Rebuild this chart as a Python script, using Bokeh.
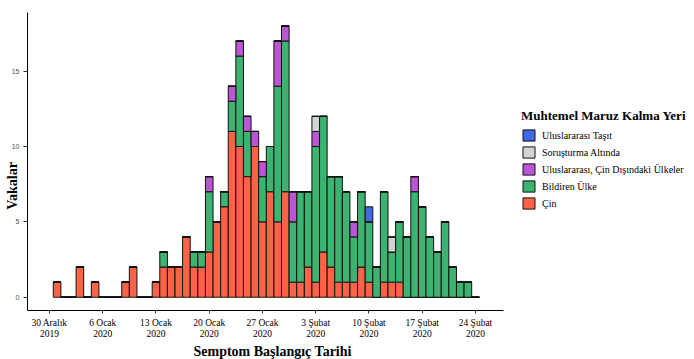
import math
from bokeh.plotting import figure
from bokeh.models import Range1d, FixedTicker, Legend, LegendItem, ColumnDataSource, Title
from bokeh.embed import file_html
from bokeh.resources import INLINE

# x: days since 30 Aralık 2019 (bar i -> 31 Aralık + i)
day_offset = list(range(1, 57))

cin = [1, 0, 0, 2, 0, 1, 0, 0, 0, 1, 2, 0, 0, 1, 2, 2, 2, 4, 2, 2,
       3, 5, 6, 11, 10, 8, 10, 5, 7, 5, 7, 1, 1, 2, 1, 3, 2, 1, 1, 1,
       2, 1, 0, 1, 1, 1, 0, 0, 0, 0, 0, 0, 0, 0, 0, 0]
bildiren = [0, 0, 0, 0, 0, 0, 0, 0, 0, 0, 0, 0, 0, 0, 1, 0, 0, 0, 1, 1,
            4, 0, 1, 2, 6, 3, 0, 3, 3, 9, 10, 4, 6, 5, 9, 9, 6, 7, 6, 3,
            5, 4, 2, 6, 2, 4, 4, 7, 6, 4, 3, 5, 2, 1, 1, 0]
cin_disi = [0, 0, 0, 0, 0, 0, 0, 0, 0, 0, 0, 0, 0, 0, 0, 0, 0, 0, 0, 0,
            1, 0, 0, 1, 1, 1, 1, 1, 0, 3, 1, 2, 0, 0, 1, 0, 0, 0, 0, 1,
            0, 0, 0, 0, 0, 0, 0, 1, 0, 0, 0, 0, 0, 0, 0, 0]
sorusturma = [0] * 34 + [1] + [0] * 9 + [1] + [0] * 11
tasit = [0] * 41 + [1] + [0] * 14

series_keys = ["cin", "bildiren", "cin_disi", "sorusturma", "tasit"]
series_names = ["Çin", "Bildiren Ülke", "Uluslararası, Çin Dışındaki Ülkeler",
                "Soruşturma Altında", "Uluslararası Taşıt"]
series_colors = ["tomato", "mediumseagreen", "mediumorchid", "lightgrey", "royalblue"]

tick_days = [0, 7, 14, 21, 28, 35, 42, 49, 56]
tick_labels = ["30 Aralık\n2019", "6 Ocak\n2020", "13 Ocak\n2020", "20 Ocak\n2020",
               "27 Ocak\n2020", "3 Şubat\n2020", "10 Şubat\n2020", "17 Şubat\n2020",
               "24 Şubat\n2020"]
y_ticks = [0, 5, 10, 15]

NB = "\u00a0"
W, H = 694, 359
LEFT, TOP, BOTTOM = 27, 12, 49
X_START, X_END = -2.89, 59.68          # extent of the bar panel (days)
X_VIEW_END = X_START + (W - LEFT) / 7.607   # frame reaches the right edge to hold the legend

source = ColumnDataSource(dict(x=day_offset, cin=cin, bildiren=bildiren, cin_disi=cin_disi,
                               sorusturma=sorusturma, tasit=tasit))

p = figure(width=W, height=H, output_backend="svg", toolbar_location=None,
           x_range=Range1d(X_START, X_VIEW_END), y_range=Range1d(-0.88, 18.89),
           min_border_left=LEFT, min_border_right=0, min_border_top=TOP,
           min_border_bottom=BOTTOM)
p.outline_line_color = None
p.xgrid.visible = False
p.ygrid.visible = False
p.background_fill_color = "white"

renderers = p.vbar_stack(series_keys, x="x", width=1.0, source=source,
                         fill_color=series_colors, line_color="#111111", line_width=1)

# x axis
p.xaxis.bounds = (X_START, X_END)
p.xaxis.ticker = FixedTicker(ticks=tick_days)
p.xaxis.major_label_overrides = {d: l for d, l in zip(tick_days, tick_labels)}
p.xaxis.major_label_text_font = "Liberation Serif"
p.xaxis.major_label_text_font_size = "9.5px"
p.xaxis.major_label_text_line_height = 1.1
p.xaxis.major_label_text_color = "black"
p.xaxis.major_label_standoff = 4
p.xaxis.major_tick_out = 3
p.xaxis.major_tick_in = 0
p.xaxis.minor_tick_line_color = None
p.xaxis.axis_line_color = "black"
p.xaxis.major_tick_line_color = "#333333"

p.add_layout(Title(text="Semptom Başlangıç Tarihi", align="left", offset=166, standoff=0,
                   text_font="Liberation Serif", text_font_size="14px",
                   text_font_style="bold", text_color="black"), "below")

# y axis
p.yaxis.ticker = FixedTicker(ticks=y_ticks)
p.yaxis.major_label_text_font = "Liberation Sans"
p.yaxis.major_label_text_font_size = "7px"
p.yaxis.major_label_text_color = "#4d4d4d"
p.yaxis.major_label_standoff = 4
p.yaxis.major_tick_out = 4
p.yaxis.major_tick_in = 0
p.yaxis.minor_tick_line_color = None
p.yaxis.axis_line_color = "black"
p.yaxis.major_tick_line_color = "#333333"
p.yaxis.axis_label = "Vakalar" + NB * 14
p.yaxis.axis_label_text_font = "Liberation Serif"
p.yaxis.axis_label_text_font_size = "14px"
p.yaxis.axis_label_text_font_style = "bold"
p.yaxis.axis_label_text_color = "black"
p.yaxis.axis_label_standoff = -11

# legend (top item = last stacked series)
items = [LegendItem(label=series_names[k], renderers=[renderers[k]]) for k in [4, 3, 2, 1, 0]]
legend = Legend(items=items, location=(494, 100), title="Muhtemel Maruz Kalma Yeri",
                title_text_font="Liberation Serif", title_text_font_size="13px",
                title_text_font_style="bold", title_text_color="black", title_standoff=4,
                label_text_font="Liberation Serif", label_text_font_size="10px",
                label_text_color="black", glyph_width=15, glyph_height=14,
                label_height=14, spacing=3, label_standoff=6, padding=0, margin=0,
                border_line_color=None, background_fill_alpha=0)
p.add_layout(legend)

open("out.html", "w").write(file_html(p, INLINE))
